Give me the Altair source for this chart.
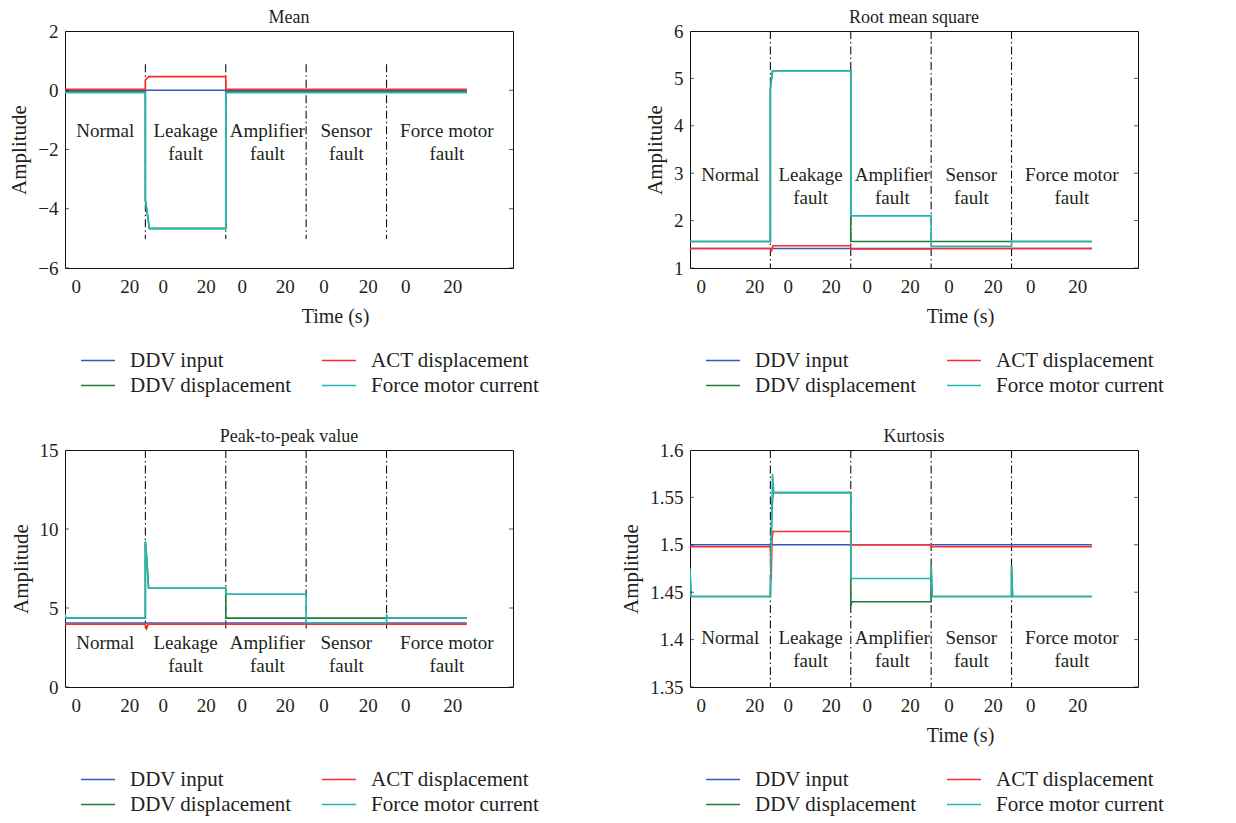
import altair as alt
import pandas as pd

FONT = "Liberation Serif"

# legend fills column by column: col 1 = DDV input / DDV displacement, col 2 = ACT displacement / Force motor current
SERIES = ["DDV input", "DDV displacement", "ACT displacement", "Force motor current"]
COLORS = ["#3358c4", "#1e7b3c", "#ff2b2b", "#27b6ae"]
DRAW_ORDER = ["DDV input", "DDV displacement", "ACT displacement", "Force motor current"]

SEG_NAMES = ["Normal", "Leakage\nfault", "Amplifier\nfault", "Sensor\nfault", "Force motor\nfault"]
SEG_CENTERS = [15, 45, 75.5, 105, 142.5]
BOUNDARIES = [30, 60, 90, 120]
TICK_POS = [4, 24, 36.5, 52.5, 66, 82, 96.5, 113, 127, 144.5]
TICK_TXT = ["0", "20", "0", "20", "0", "20", "0", "20", "0", "20"]
X_MAX = 167.2

# ---- Mean ----
MEAN = {
    "DDV input": ([0, 150], [0.0, 0.0]),
    "DDV displacement": ([0, 30, 30, 31.5, 60, 60, 150], [-0.05, -0.05, -3.70, -4.66, -4.66, -0.05, -0.05]),
    "ACT displacement": ([0, 30, 30, 31.3, 60, 60, 150], [0.03, 0.03, 0.35, 0.46, 0.46, 0.03, 0.03]),
    "Force motor current": ([0, 30, 30, 31.5, 60, 60, 150], [-0.08, -0.08, -3.72, -4.68, -4.68, -0.08, -0.08]),
}
# ---- Root mean square ----
RMS = {
    "DDV input": ([0, 150], [1.41, 1.41]),
    "DDV displacement": ([0, 30, 30, 30.8, 60, 60, 150], [1.56, 1.56, 4.80, 5.16, 5.16, 1.56, 1.56]),
    "ACT displacement": ([0, 30, 30.3, 30.9, 60, 60, 90, 90, 150], [1.41, 1.41, 1.34, 1.47, 1.47, 1.40, 1.40, 1.41, 1.41]),
    "Force motor current": ([0, 30, 30, 30.8, 60, 60, 90, 90, 120, 120, 150],
                            [1.56, 1.56, 4.80, 5.16, 5.16, 2.10, 2.10, 1.46, 1.46, 1.56, 1.56]),
}
# ---- Peak-to-peak value ----
P2P = {
    "DDV input": ([0, 150], [4.05, 4.05]),
    "DDV displacement": ([0, 30, 30, 30.4, 31.2, 60, 60, 150], [4.36, 4.36, 9.2, 8.4, 6.25, 6.25, 4.36, 4.36]),
    "ACT displacement": ([0, 30, 30.5, 31, 150], [3.97, 3.97, 3.70, 3.97, 3.97]),
    "Force motor current": ([0, 0.4, 30, 30, 30.4, 31.2, 60, 60, 90, 90, 120, 120, 120.4, 150],
                            [4.6, 4.36, 4.36, 9.2, 8.4, 6.25, 6.25, 5.88, 5.88, 4.07, 4.07, 4.6, 4.36, 4.36]),
}
# ---- Kurtosis ----
KURT = {
    "DDV input": ([0, 150], [1.5, 1.5]),
    "DDV displacement": ([0, 0.4, 30, 30, 30.5, 31, 60, 60, 60.4, 90, 90, 90.4, 120, 120, 120.4, 150],
                         [1.475, 1.4455, 1.4455, 1.4455, 1.535, 1.555, 1.555, 1.435, 1.44, 1.44, 1.478, 1.4455,
                          1.4455, 1.478, 1.4455, 1.4455]),
    "ACT displacement": ([0, 30, 30.3, 30.6, 31, 60, 60, 90, 90, 150],
                         [1.498, 1.498, 1.463, 1.506, 1.514, 1.514, 1.5, 1.5, 1.498, 1.498]),
    "Force motor current": ([0, 0.4, 30, 30, 30.8, 31.3, 60, 60, 90, 90, 90.4, 120, 120, 120.4, 150],
                            [1.475, 1.4455, 1.4455, 1.4455, 1.575, 1.555, 1.555, 1.4645, 1.4645, 1.478, 1.4455,
                             1.4455, 1.478, 1.4455, 1.4455]),
}

PANELS = [
    dict(title="Mean", data=MEAN, ydom=[-6, 2], yticks=[-6, -4, -2, 0, 2], fmt="d",
         label_y=-1.08, div=(0.88, -5.02), xtitle=True),
    dict(title="Root mean square", data=RMS, ydom=[1, 6], yticks=[1, 2, 3, 4, 5, 6], fmt="d",
         label_y=3.16, div=(6, 1), xtitle=True),
    dict(title="Peak-to-peak value", data=P2P, ydom=[0, 15], yticks=[0, 5, 10, 15], fmt="d",
         label_y=3.33, div=(15, 3.58), xtitle=False),
    dict(title="Kurtosis", data=KURT, ydom=[1.35, 1.6], yticks=[1.35, 1.4, 1.45, 1.5, 1.55, 1.6], fmt=".2~f",
         label_y=1.4107, div=(1.6, 1.35), xtitle=True),
]

W, H = 448, 237

label_expr = "{" + ",".join(f"'{p}':'{t}'" for p, t in zip(TICK_POS, TICK_TXT)) + "}[''+datum.value]"


def make_panel(p):
    rows = []
    for s in DRAW_ORDER:
        xs, ys = p["data"][s]
        for i, (xv, yv) in enumerate(zip(xs, ys)):
            rows.append({"series": s, "t": xv, "v": yv, "i": i})
    df = pd.DataFrame(rows)

    xscale = alt.Scale(domain=[0, X_MAX], nice=False, zero=False)
    yscale = alt.Scale(domain=p["ydom"], nice=False, zero=False)

    xaxis = alt.Axis(values=TICK_POS, labelExpr=label_expr, ticks=False, domain=False, grid=False,
                     labelPadding=9, labelFontSize=19, labelFlush=False, labelOverlap=False,
                     titleFontSize=20, titleFontWeight="normal", titleX=270, titleY=38,
                     titleBaseline="top")
    yaxis = alt.Axis(values=p["yticks"], format=p["fmt"], ticks=False, domain=False, grid=False,
                     labelPadding=7, labelFontSize=19, labelFlush=False, labelOverlap=False,
                     titleFontSize=21, titleFontWeight="normal", titlePadding=8)

    lines = alt.Chart(df).mark_line(strokeWidth=1.6, clip=True).encode(
        x=alt.X("t:Q", scale=xscale, axis=xaxis, title="Time (s)" if p["xtitle"] else None),
        y=alt.Y("v:Q", scale=yscale, axis=yaxis, title="Amplitude"),
        color=alt.Color("series:N", scale=alt.Scale(domain=SERIES, range=COLORS),
                        legend=alt.Legend(title=None, orient="none", legendX=15, legendY=318,
                                          columns=2, symbolType="stroke", symbolSize=1156,
                                          symbolStrokeWidth=1.5, labelFontSize=21, labelFont=FONT,
                                          columnPadding=29, rowPadding=2, clipHeight=23, labelOffset=14,
                                          labelLimit=400, labelColor="#231f20")),
        order=alt.Order("i:Q"),
    )

    div_df = pd.DataFrame({"t": BOUNDARIES, "y1": [p["div"][0]] * 4, "y2": [p["div"][1]] * 4})
    dividers = alt.Chart(div_df).mark_rule(color="#111111", strokeDash=[8, 3, 1.5, 3], strokeWidth=1.1).encode(
        x="t:Q", y="y1:Q", y2="y2:Q")

    seg_df = pd.DataFrame({"t": SEG_CENTERS, "v": [p["label_y"]] * 5, "label": SEG_NAMES})
    seg = alt.Chart(seg_df).mark_text(font=FONT, fontSize=19, lineBreak="\n", baseline="top",
                                      lineHeight=23, align="center", color="#231f20").encode(
        x="t:Q", y="v:Q", text="label:N")

    tick_df = pd.DataFrame({"t": [0] * len(p["yticks"]) + [X_MAX] * len(p["yticks"]),
                            "v": p["yticks"] * 2})
    ticks = alt.Chart(tick_df).mark_tick(orient="horizontal", size=8, thickness=1, clip=True,
                                         color="#111111").encode(x="t:Q", y="v:Q")

    return alt.layer(dividers, lines, seg, ticks).properties(
        width=W, height=H, title=alt.TitleParams(p["title"], font=FONT, fontSize=18,
                                                 fontWeight="normal", offset=-5, color="#231f20"))


panels = [make_panel(p) for p in PANELS]

chart = alt.concat(*panels, columns=2, spacing={"row": 182, "column": 177}, bounds="flush").resolve_scale(
    x="independent", y="independent", color="independent").resolve_legend(
    color="independent").properties(padding=0).configure(font=FONT).configure_view(
    stroke="#111111", strokeWidth=1).configure_axis(labelFont=FONT, titleFont=FONT,
                                                     labelColor="#231f20", titleColor="#231f20")

chart.save("out.html", embed_options={"renderer": "svg", "actions": False})
